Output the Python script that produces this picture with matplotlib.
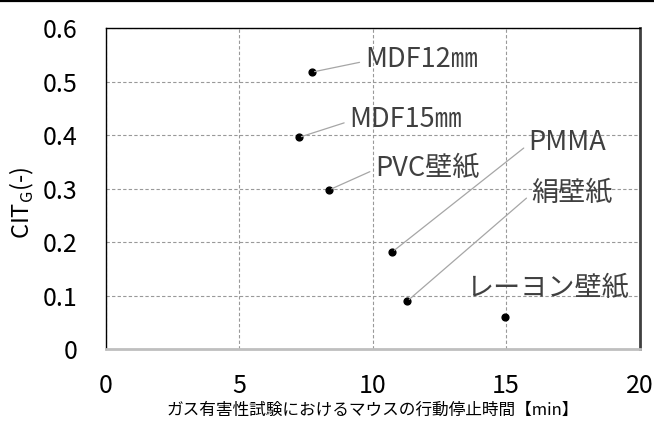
import matplotlib
matplotlib.use("Agg")
import matplotlib.pyplot as plt
from matplotlib.lines import Line2D

plt.rcParams['font.family'] = ['Noto Sans CJK JP', 'DejaVu Sans']

# ==== Data ====
materials = ["MDF12㎜", "MDF15㎜", "PVC壁紙", "PMMA", "絹壁紙", "レーヨン壁紙"]
stop_time = [7.73, 7.24, 8.38, 10.74, 11.30, 14.97]   # min
cit_g = [0.518, 0.396, 0.298, 0.182, 0.090, 0.061]
# label positions (data coords) and whether a leader line is drawn
label_x = [9.72, 9.14, 10.1, 15.85, 15.95, 13.5]
label_y = [0.541, 0.429, 0.339, 0.386, 0.293, 0.115]
leader = [True, True, True, True, True, False]

x_ticks = [0, 5, 10, 15, 20]
y_ticks = [0, 0.1, 0.2, 0.3, 0.4, 0.5, 0.6]
y_tick_labels = ["0", "0.1", "0.2", "0.3", "0.4", "0.5", "0.6"]

# ==== Plot ====
fig = plt.figure(figsize=(6.54, 4.24), dpi=100)
ax = fig.add_axes([105.5 / 654, 1 - 349.3 / 424, 534 / 654, 321 / 424])

ax.scatter(stop_time, cit_g, s=24, color='black', zorder=3)

for name, px, py, tx, ty, lead in zip(materials, stop_time, cit_g, label_x, label_y, leader):
    props = None
    if lead:
        props = dict(arrowstyle='-', color='#a6a6a6', lw=0.9, relpos=(0, 0.45),
                     shrinkA=2, shrinkB=2)
    ax.annotate(name, xy=(px, py), xytext=(tx, ty), textcoords='data',
                ha='left', va='center', fontsize=19.5, color='#404040',
                arrowprops=props, zorder=4)

ax.set_xlim(0, 20)
ax.set_ylim(0, 0.6)
ax.set_xticks(x_ticks)
ax.set_yticks(y_ticks)
ax.set_yticklabels(y_tick_labels)
ax.tick_params(axis='both', length=0, labelsize=18, colors='black')
ax.tick_params(axis='x', pad=17)
ax.tick_params(axis='y', pad=20)
ax.grid(True, linestyle=(0, (3, 2)), color='#999999', lw=0.8)

ax.spines['left'].set_color('black')
ax.spines['left'].set_linewidth(1.0)
ax.spines['top'].set_color('black')
ax.spines['top'].set_linewidth(1.0)
ax.spines['right'].set_color('#404040')
ax.spines['right'].set_linewidth(2.0)
ax.spines['bottom'].set_color('#bfbfbf')
ax.spines['bottom'].set_linewidth(2.0)

ax.set_xlabel("ガス有害性試験におけるマウスの行動停止時間【min】", fontsize=12, labelpad=2)
fig.text(22 / 654, 1 - 203 / 424, "CIT$_\\mathregular{G}$(-)", rotation=90,
         fontsize=17, ha='center', va='center')

# thin black rule along the top edge of the image
fig.add_artist(Line2D([0, 1], [1 - 0.8 / 424, 1 - 0.8 / 424], color='black', lw=1.6,
                      transform=fig.transFigure))

fig.savefig("out.png", dpi=100)
